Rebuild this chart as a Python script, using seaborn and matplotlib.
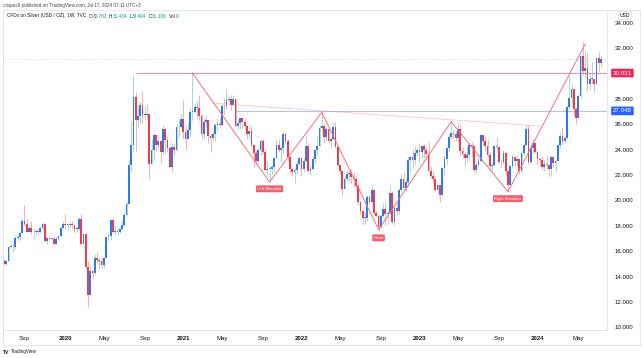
import numpy as np
import pandas as pd
import matplotlib
matplotlib.use("Agg")
import matplotlib.pyplot as plt
import matplotlib.dates as mdates
import matplotlib.transforms as mtransforms
from matplotlib.patches import Rectangle
import seaborn as sns

# weekly candles of TVC:SILVER, first bar = week of 2019-07-01
first_week = "2019-07-01"
first_open = 15.26

close = [
    15.00, 15.21, 16.35, 16.37, 16.30, 17.05, 17.13, 17.46, 18.35,
    18.18, 17.53, 17.85, 17.48, 17.55, 17.52, 17.55, 17.85, 18.15,
    16.80, 17.05, 16.95, 16.95, 16.55, 16.97, 17.20, 17.85, 18.12,
    # 2020
    18.07, 18.07, 18.15, 18.03, 17.75, 17.73, 18.50, 16.55,
    17.35, 14.77, 12.52, 14.43, 14.25, 15.49, 15.33, 15.20, 14.95,
    15.48, 17.08, 17.17, 18.47, 17.50, 17.53, 17.55, 17.78, 18.10,
    18.85, 19.75, 22.75, 24.35, 28.15, 26.30, 26.65, 27.50, 26.75,
    26.75, 26.80, 22.90, 23.95, 25.15, 24.40, 24.65, 23.85,
    25.65, 24.78, 24.10, 22.65, 24.20, 23.95, 25.75, 25.80, 26.40,
    # 2021
    25.35, 24.85, 25.55, 26.95, 26.95, 27.35, 27.25, 26.65,
    25.20, 26.15, 26.30, 25.10, 24.95, 25.25, 25.90, 26.05, 25.90,
    27.45, 27.40, 27.90, 27.95, 27.55, 28.00, 25.85, 26.10, 26.45,
    26.20, 25.85, 25.25, 25.50, 24.40, 23.75, 23.10, 24.00, 24.70,
    23.80, 22.40, 22.50, 22.50, 22.60, 23.30, 24.35, 23.95,
    24.15, 25.20, 24.65, 23.40, 22.45, 22.20, 22.40, 22.90, 23.30,
    # 2022
    22.45, 23.10, 24.30, 22.35, 22.45, 23.25, 23.95, 24.30, 25.70,
    25.85, 25.00, 25.60, 24.70, 24.80, 25.75, 24.20, 22.80,
    22.35, 20.90, 21.70, 22.05, 22.15, 21.85, 21.65, 21.10, 19.85,
    19.20, 18.65, 18.65, 20.30, 19.90, 20.80, 19.00, 18.80, 17.90,
    18.80, 19.35, 18.90, 19.00, 20.60, 18.30, 19.40, 19.20, 20.85,
    21.70, 20.95, 21.45, 23.15, 23.45, 23.20, 23.70, 23.95,
    # 2023
    23.85, 24.30, 23.95, 23.65, 22.35, 21.95, 21.65, 20.80, 21.20,
    20.45, 22.55, 23.25, 24.10, 25.00, 25.30, 25.20, 24.95,
    25.60, 23.90, 23.65, 23.30, 23.60, 24.35, 24.25, 22.40, 22.75,
    23.10, 25.15, 24.70, 24.30, 23.60, 22.70, 22.75, 24.25, 24.20,
    23.00, 23.00, 23.75, 22.30, 21.25, 22.70, 23.40, 23.10, 23.25,
    22.30, 23.75, 24.40, 25.60, 23.00, 24.10, 24.55, 23.80,
    # 2024
    23.25, 23.15, 22.60, 22.90, 22.80, 22.50, 23.40, 22.95, 23.10,
    24.40, 25.10, 24.70, 24.95, 27.35, 28.05, 28.75, 27.20, 26.50,
    28.20, 31.35, 30.20, 30.40, 29.20, 29.55, 29.55, 29.15,
    31.20, 30.78, 31.106,
]

high = [
    15.40, 15.30, 16.40, 16.65, 16.55, 17.20, 17.25, 17.50, 18.60,
    19.65, 18.55, 18.10, 18.40, 17.85, 17.75, 17.70, 17.95, 18.30,
    18.20, 17.10, 17.10, 17.05, 17.20, 17.20, 17.25, 17.95, 18.35,
    # 2020
    18.90, 18.25, 18.35, 18.40, 18.05, 17.90, 18.70, 18.90,
    17.55, 17.45, 15.25, 14.90, 14.50, 15.75, 15.90, 15.45, 15.55,
    15.55, 17.15, 17.55, 18.50, 18.60, 18.05, 17.90, 17.90, 18.35,
    19.05, 19.95, 23.20, 26.20, 29.85, 28.50, 27.55, 27.85, 28.60,
    27.40, 27.60, 26.80, 24.80, 25.30, 25.20, 25.25, 24.70,
    25.90, 25.50, 25.05, 24.30, 24.45, 24.50, 26.00, 26.30, 26.80,
    # 2021
    27.90, 25.85, 26.10, 27.25, 30.10, 27.70, 27.80, 28.30,
    26.80, 26.50, 26.70, 26.35, 25.30, 25.45, 26.10, 26.50, 26.55,
    27.60, 28.05, 28.75, 28.30, 28.30, 28.30, 28.00, 26.40, 26.50,
    26.60, 26.50, 25.90, 25.75, 25.90, 24.35, 23.95, 24.10, 24.80,
    24.85, 24.15, 23.10, 22.80, 22.80, 23.40, 24.80, 24.80,
    24.25, 25.40, 25.40, 24.80, 23.20, 22.50, 22.60, 23.10, 23.40,
    # 2022
    23.30, 23.30, 25.10, 24.50, 22.80, 23.50, 24.00, 25.05, 25.90,
    26.94, 26.00, 25.75, 25.80, 24.90, 26.20, 26.20, 24.25,
    22.90, 22.40, 21.95, 22.40, 22.45, 22.50, 22.20, 21.85, 21.35,
    19.95, 19.20, 19.00, 20.40, 20.40, 21.25, 20.85, 19.20, 18.90,
    18.90, 19.80, 19.90, 19.15, 21.25, 20.75, 19.45, 19.80, 21.00,
    22.10, 22.25, 21.75, 23.40, 23.50, 24.05, 24.25, 24.15,
    # 2023
    24.55, 24.40, 24.45, 24.20, 24.60, 22.70, 22.30, 21.95, 21.40,
    21.25, 22.65, 23.55, 24.20, 25.20, 26.10, 25.55, 25.45,
    26.15, 26.00, 24.20, 23.85, 24.25, 24.55, 24.60, 24.30, 23.05,
    23.40, 25.25, 25.25, 25.00, 24.85, 23.80, 22.95, 24.40, 25.00,
    24.25, 23.25, 24.00, 23.80, 22.40, 22.80, 23.60, 23.50, 23.55,
    23.30, 23.90, 24.50, 25.90, 25.90, 24.45, 24.85, 24.60,
    # 2024
    24.00, 23.45, 23.45, 23.15, 23.55, 22.80, 23.60, 23.25, 23.15,
    24.45, 25.40, 25.80, 25.15, 27.50, 29.80, 29.20, 28.80, 27.35,
    28.40, 31.55, 32.50, 31.80, 31.55, 30.00, 30.90, 29.60,
    31.30, 31.65, 31.434,
]

low = [
    14.95, 14.95, 15.15, 16.25, 15.90, 16.15, 16.80, 16.90, 17.40,
    17.95, 17.50, 17.50, 17.35, 16.95, 17.30, 17.25, 17.45, 17.70,
    16.75, 16.60, 16.85, 16.85, 16.50, 16.50, 16.85, 17.15, 17.80,
    # 2020
    17.75, 17.70, 17.85, 17.85, 17.45, 17.55, 17.70, 16.50,
    16.55, 14.70, 11.64, 12.80, 13.80, 14.20, 15.10, 14.60, 14.70,
    14.70, 15.55, 16.80, 16.85, 17.40, 17.30, 17.25, 17.40, 17.65,
    18.00, 18.80, 19.70, 22.20, 23.80, 23.90, 25.80, 26.00, 26.10,
    26.40, 26.40, 21.68, 22.90, 23.15, 23.90, 24.05, 22.95,
    23.55, 23.70, 23.80, 22.55, 22.20, 23.50, 23.90, 25.00, 25.90,
    # 2021
    24.85, 24.05, 24.85, 25.10, 26.30, 26.90, 26.40, 26.30,
    24.80, 24.85, 25.75, 24.55, 23.80, 24.75, 24.65, 25.50, 25.70,
    25.85, 26.70, 27.20, 27.65, 27.10, 27.50, 25.85, 25.65, 25.65,
    25.70, 25.60, 24.85, 24.80, 24.20, 22.60, 22.90, 22.95, 23.60,
    23.65, 22.40, 22.00, 21.42, 22.05, 22.35, 23.30, 23.80,
    23.00, 23.75, 24.45, 23.10, 22.15, 21.90, 21.40, 22.10, 22.80,
    # 2022
    21.95, 22.25, 23.00, 22.20, 22.00, 22.40, 22.85, 23.60, 24.30,
    25.40, 24.50, 24.65, 24.50, 24.15, 24.75, 24.20, 22.70,
    22.05, 20.45, 20.90, 21.60, 21.55, 21.40, 21.05, 20.90, 19.60,
    18.90, 18.15, 18.10, 18.40, 19.60, 19.80, 18.95, 18.70, 17.56,
    17.75, 18.70, 18.10, 18.10, 18.95, 18.15, 18.10, 18.85, 18.85,
    20.65, 20.85, 20.75, 21.15, 22.35, 22.55, 22.80, 23.50,
    # 2023
    23.05, 23.30, 23.35, 23.30, 22.20, 21.80, 21.35, 20.75, 20.70,
    19.90, 20.40, 21.90, 22.85, 23.85, 24.95, 24.85, 24.65,
    24.55, 23.60, 23.35, 22.70, 23.00, 23.25, 23.45, 22.25, 22.10,
    22.65, 23.00, 24.40, 23.90, 23.40, 22.50, 22.25, 22.70, 24.00,
    22.85, 22.55, 22.90, 21.95, 20.68, 21.25, 22.55, 22.70, 22.65,
    22.10, 22.20, 23.60, 24.25, 22.90, 22.90, 23.75, 23.70,
    # 2024
    22.80, 22.70, 22.40, 22.30, 22.45, 21.95, 21.95, 22.60, 22.30,
    23.10, 24.10, 24.40, 24.50, 24.80, 27.30, 27.40, 26.75, 26.00,
    26.50, 28.10, 29.90, 29.70, 28.65, 28.75, 29.20, 28.55,
    29.15, 30.20, 30.494,
]

# drawings on the chart (date, price)
pattern_dates = ["2021-02-01", "2021-09-27", "2022-03-07", "2022-08-29",
                 "2023-04-10", "2023-10-02", "2024-05-27"]
pattern_prices = [30.03, 21.45, 26.94, 17.70, 26.20, 20.68, 32.30]
shoulder_labels = {1: "Left Shoulder", 3: "Head", 5: "Right Shoulder"}
neck_dates = ["2021-04-05", "2024-01-08"]
neck_prices = [27.65, 25.86]
red_level, red_from = 30.031, "2020-08-10"
blue_level, blue_from = 27.048, "2021-06-14"
last_price = 31.106

ytick_values = list(range(10, 35, 2))
xtick_dates = ["2019-09-02", "2020-01-06", "2020-05-04", "2020-09-07", "2021-01-04",
               "2021-05-03", "2021-09-06", "2022-01-03", "2022-05-02", "2022-09-05",
               "2023-01-02", "2023-05-01", "2023-09-04", "2024-01-01", "2024-05-06"]
xtick_labels = ["Sep", "2020", "May", "Sep", "2021", "May", "Sep", "2022", "May",
                "Sep", "2023", "May", "Sep", "2024", "May"]

# colours
UP, DOWN = "#2E7AF2", "#F23A4B"
WICK_UP, WICK_DOWN = "#9DD2C7", "#F5A3AB"
PATTERN = "#F5707B"
TEXT = "#131722"

sns.set_theme(style="white")
plt.rcParams["font.family"] = ["Liberation Sans", "DejaVu Sans"]

W, H = 643, 358
fig = plt.figure(figsize=(W / 100, H / 100), dpi=100)
ax = fig.add_axes([3 / W, (H - 330) / H, (607 - 3) / W, (330 - 10) / H])

dates = pd.date_range(first_week, periods=len(close), freq="7D")
x = mdates.date2num(dates)
c = np.array(close)
o = np.concatenate([[first_open], c[:-1]])
hi = np.maximum(np.array(high), np.maximum(o, c))
lo = np.minimum(np.array(low), np.minimum(o, c))
up = c >= o

ax.vlines(x[up], lo[up], hi[up], color=WICK_UP, lw=0.6, zorder=2)
ax.vlines(x[~up], lo[~up], hi[~up], color=WICK_DOWN, lw=0.6, zorder=2)
body = np.maximum(np.abs(c - o), 0.06)
ax.bar(x[up], body[up], bottom=np.minimum(o, c)[up], width=5.4, color=UP, lw=0, zorder=3)
ax.bar(x[~up], body[~up], bottom=np.minimum(o, c)[~up], width=5.4, color=DOWN, lw=0, zorder=3)

# axis scales: 2.27 px per week, 12.7 px per dollar
d0 = mdates.date2num(pd.Timestamp("2020-03-16"))
xl = (d0 - (88 - 3) / 2.27 * 7, d0 + (607 - 88) / 2.27 * 7)
ax.set_xlim(*xl)
ax.set_ylim(32 - (330 - 48) / 12.7, 32 + (48 - 10) / 12.7)

# horizontal levels
ax.hlines(red_level, mdates.date2num(pd.Timestamp(red_from)), xl[1], color="#F0506E",
          lw=0.6, alpha=0.75, zorder=4)
ax.hlines(blue_level, mdates.date2num(pd.Timestamp(blue_from)), xl[1], color="#2962FF",
          lw=0.6, alpha=0.45, zorder=4)
ax.axhline(last_price, color=UP, lw=0.5, ls=(0, (1, 1.5)), alpha=0.35, zorder=1)

# head and shoulders drawing
px = mdates.date2num(pd.to_datetime(pattern_dates))
ax.plot(px, pattern_prices, color=PATTERN, lw=0.7, zorder=5)
ax.plot(mdates.date2num(pd.to_datetime(neck_dates)), neck_prices, color=PATTERN,
        lw=0.6, ls=(0, (1, 1)), alpha=0.8, zorder=5)
for i, txt in shoulder_labels.items():
    ax.annotate(txt, xy=(px[i], pattern_prices[i]), xytext=(0, -3.5 if i != 3 else -4.5),
                textcoords="offset points", ha="center", va="top", fontsize=3.0,
                color="white", zorder=6,
                bbox=dict(boxstyle="round,pad=0.35,rounding_size=0.3", fc="#F0606C",
                          ec="none"))

# price scale (30.000 sits under the red level box, as in the source)
ax.yaxis.tick_right()
ax.set_yticks(ytick_values)
ax.set_yticklabels(["" if v == 30 else f"{v:.3f}" for v in ytick_values])
ax.tick_params(axis="y", length=0, pad=5.5, labelsize=4.4, labelcolor=TEXT)
blend = mtransforms.blended_transform_factory(ax.transAxes, ax.transData)
for lvl, col in [(red_level, "#EC2A5A"), (blue_level, "#2962FF")]:
    ax.text(1 + 6 / 604, lvl, f"{lvl:.3f}", transform=blend, ha="left", va="center",
            fontsize=4.4, color="white", zorder=7, clip_on=False,
            bbox=dict(boxstyle="round,pad=0.3,rounding_size=0.15", fc=col, ec="none"))

# time scale
ax.set_xticks(mdates.date2num(pd.to_datetime(xtick_dates)))
ax.set_xticklabels(xtick_labels)
ax.tick_params(axis="x", length=0, pad=4.5, labelsize=4.4, labelcolor=TEXT)
for t in ax.get_xticklabels():
    if t.get_text().isdigit():
        t.set_fontweight("bold")

sns.despine(ax=ax, left=True, top=True, right=False, bottom=False)
for s in ("right", "bottom"):
    ax.spines[s].set_color("#E0E3EB")
    ax.spines[s].set_linewidth(0.6)
ax.grid(False)

# outer frame and texts
fig.patches.append(Rectangle((3 / W, (H - 345) / H), (640 - 3) / W, (345 - 10) / H,
                             transform=fig.transFigure, fill=False, ec="#E0E3EB", lw=0.6))
fig.text(625 / W, 1 - 15.5 / H, "USD", fontsize=3.6, color=TEXT, ha="center", va="center",
         bbox=dict(boxstyle="round,pad=0.3", fc="white", ec="#D1D4DC", lw=0.4))
fig.text(3 / W, 1 - 5 / H, "crispus9 published on TradingView.com, Jul 17, 2024 07:11 UTC+3",
         fontsize=3.3, color="#434651", ha="left", va="center")

fig.canvas.draw()
renderer = fig.canvas.get_renderer()
teal = "#089981"
parts = [("CFDs on Silver (USD / OZ), 1W, TVC", TEXT, 2.5),
         ("O", TEXT, 0), ("30.782", teal, 2.2), ("H", TEXT, 0), ("31.434", teal, 2.2),
         ("L", TEXT, 0), ("30.494", teal, 2.2), ("C", TEXT, 0), ("31.106", teal, 2.2),
         ("Vol", TEXT, 0), ("0", teal, 0)]
xp = 7
for s, col, gap in parts:
    t = fig.text(xp / W, 1 - 16 / H, s, fontsize=3.4, color=col, ha="left", va="center")
    xp += t.get_window_extent(renderer=renderer).width + gap

fig.text(3 / W, 1 - 352 / H, "TV", fontsize=3.6, fontweight="bold", color=TEXT,
         ha="left", va="center")
fig.text(11 / W, 1 - 352 / H, "TradingView", fontsize=3.3, color=TEXT, ha="left",
         va="center")

fig.savefig("out.png", dpi=100)
